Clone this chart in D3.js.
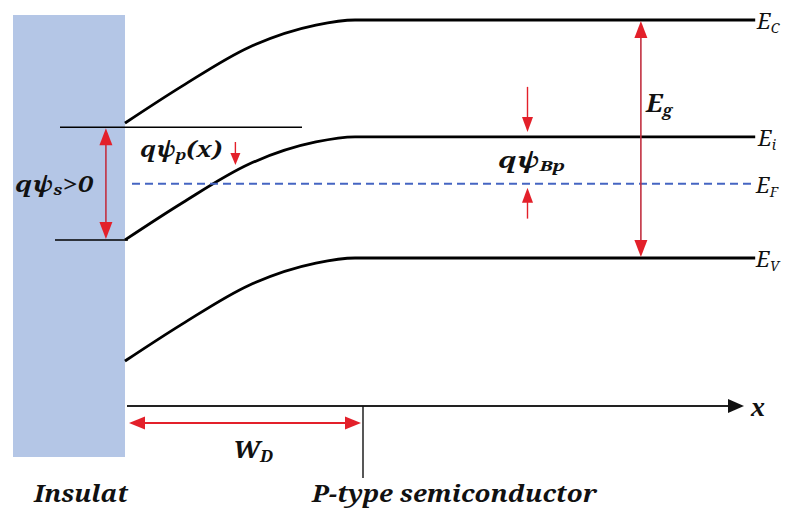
<!DOCTYPE html>
<html>
<head>
<meta charset="utf-8">
<script src="https://cdn.jsdelivr.net/npm/d3@7"></script>
<style>
  html, body { margin: 0; padding: 0; background: #fff; }
  svg { display: block; }
</style>
</head>
<body>
<div id="chart"></div>
<script>
// Energy band diagram of a p-type MOS structure under positive surface potential.
// Energies in eV relative to the bulk valence band edge; position in units of the depletion width W_D.

const bandNames   = ["C", "i", "V"];          // E_C, E_i, E_V
const bulkEnergy  = [1.12, 0.57, 0.0];        // flat-band levels in the bulk
const fermiLevel  = 0.35;                     // E_F
const bendPos     = [0, 0.25, 0.54, 0.83, 1.0];      // x / W_D
const bendDrop    = [0.485, 0.31, 0.128, 0.024, 0];  // downward band bending (eV)
const bulkEnd     = 2.74;                     // right end of the drawn bulk region (x / W_D)
const surfaceRef  = 0.615;                    // reference level drawn at the interface
const psiArrowX   = -0.083;                   // qψs marker position
const psiBpArrowX = 1.75;                     // qψBp marker position
const egArrowX    = 2.243;                    // Eg marker position
const psiPArrowX  = 0.48;                     // qψp(x) marker position

const W = 795, H = 520;
const FONT = "Noto Serif, Liberation Serif, serif";
const FONT2 = "Liberation Serif, serif";
const svg = d3.select("#chart").append("svg").attr("width", W).attr("height", H);

const x = d3.scaleLinear().domain([0, 1]).range([125, 355]);
const y = d3.scaleLinear().domain([0, 1.12]).range([258, 20]);

const RED = "#e3202a", SHAFT = "#c23040", BLUE = "#4565c2";

// insulator block
svg.append("rect")
  .attr("x", 13).attr("y", 15).attr("width", x(0) - 13).attr("height", 442)
  .attr("fill", "#b4c6e6");

// band edges: bent region joined to the flat bulk part
const line = d3.line().x(d => x(d[0])).y(d => y(d[1])).curve(d3.curveMonotoneX);
bulkEnergy.forEach(e0 => {
  const pts = bendPos.map((p, i) => [p, e0 - bendDrop[i]]).concat([[bulkEnd, e0]]);
  svg.append("path").attr("d", line(pts))
    .attr("fill", "none").attr("stroke", "#000").attr("stroke-width", 2.8);
});

// Fermi level
svg.append("line")
  .attr("x1", x(0) + 7).attr("x2", x(bulkEnd))
  .attr("y1", y(fermiLevel)).attr("y2", y(fermiLevel))
  .attr("stroke", BLUE).attr("stroke-width", 2).attr("stroke-dasharray", "8,5");

// interface reference lines
svg.append("line")
  .attr("x1", 60).attr("x2", 302).attr("y1", y(surfaceRef)).attr("y2", y(surfaceRef))
  .attr("stroke", "#000").attr("stroke-width", 1.6);
svg.append("line")
  .attr("x1", 55).attr("x2", x(0) + 3)
  .attr("y1", y(bulkEnergy[1] - bendDrop[0])).attr("y2", y(bulkEnergy[1] - bendDrop[0]))
  .attr("stroke", "#000").attr("stroke-width", 1.6);

// arrow helpers: shaft plus filled head(s)
function drawHead(g, px, py, dir, w, l, orient) {
  const p = d3.path();
  if (orient === "v") {
    p.moveTo(px, py);
    p.lineTo(px - w / 2, py - dir * l);
    p.lineTo(px + w / 2, py - dir * l);
  } else {
    p.moveTo(px, py);
    p.lineTo(px - dir * l, py - w / 2);
    p.lineTo(px - dir * l, py + w / 2);
  }
  p.closePath();
  g.append("path").attr("d", p.toString()).attr("fill", RED);
}
function vArrow(px, y1, y2, opts) {
  const g = svg.append("g");
  const hw = opts.w || 12, hl = opts.l || 16;
  const d = Math.sign(y2 - y1);
  g.append("line").attr("x1", px).attr("x2", px)
    .attr("y1", y1 + (opts.start ? hl - 2 : 0) * d)
    .attr("y2", y2 - (opts.end ? hl - 2 : 0) * d)
    .attr("stroke", opts.shaft || SHAFT).attr("stroke-width", opts.sw || 1.6);
  if (opts.end) drawHead(g, px, y2, d, hw, hl, "v");
  if (opts.start) drawHead(g, px, y1, -d, hw, hl, "v");
}
function hArrow(py, x1, x2, opts) {
  const g = svg.append("g");
  const hw = opts.w || 12, hl = opts.l || 16;
  g.append("line").attr("y1", py).attr("y2", py)
    .attr("x1", x1 + hl - 2).attr("x2", x2 - hl + 2)
    .attr("stroke", opts.shaft || RED).attr("stroke-width", opts.sw || 2);
  drawHead(g, x2, py, 1, hw, hl, "h");
  drawHead(g, x1, py, -1, hw, hl, "h");
}

// qψs: interface reference to surface intrinsic level
vArrow(x(psiArrowX), y(surfaceRef) + 1, y(bulkEnergy[1] - bendDrop[0]) - 1, { start: true, end: true, w: 13, l: 17 });
// Eg
vArrow(x(egArrowX), y(bulkEnergy[0]) + 1, y(bulkEnergy[2]) - 1, { start: true, end: true, w: 13, l: 17 });
// qψBp pointers
vArrow(x(psiBpArrowX), y(bulkEnergy[1]) - 50, y(bulkEnergy[1]) - 5, { end: true, w: 11, l: 15, shaft: RED, sw: 1.4 });
vArrow(x(psiBpArrowX), y(fermiLevel) + 35, y(fermiLevel) + 4, { end: true, w: 11, l: 15, shaft: RED, sw: 1.4 });
// qψp(x) pointer
vArrow(x(psiPArrowX), 142, 165, { end: true, w: 10, l: 12, shaft: RED, sw: 1.4 });

// position axis
const axisY = 406;
svg.append("line").attr("x1", x(0) + 2).attr("x2", 732).attr("y1", axisY).attr("y2", axisY)
  .attr("stroke", "#222").attr("stroke-width", 2);
svg.append("path")
  .attr("d", d3.line()([[744, axisY], [728, axisY - 7], [728, axisY + 7]]) + "Z")
  .attr("fill", "#111");
svg.append("line").attr("x1", x(1) + 8).attr("x2", x(1) + 8).attr("y1", axisY).attr("y2", 478)
  .attr("stroke", "#111").attr("stroke-width", 1.4);
hArrow(423, x(0) + 4, x(1) + 6, { w: 13, l: 16 });

// text labels
function label(tx, ty, parts, size, weight, len, fam) {
  const t = svg.append("text").attr("x", tx).attr("y", ty)
    .attr("font-family", fam || FONT).attr("font-style", "italic").attr("fill", "#111")
    .attr("font-size", size).attr("font-weight", weight || "bold");
  parts.forEach(p => {
    const s = t.append("tspan").text(p.t);
    if (p.sub) s.attr("font-size", p.size || size * 0.62).attr("dy", p.dy || size * 0.22);
    if (p.up) s.attr("dy", -p.up);
  });
  if (len) t.attr("textLength", len).attr("lengthAdjust", "spacingAndGlyphs");
  return t;
}

label(757, 29, [{ t: "E" }, { t: "C", sub: true, size: 14, dy: 4 }], 22, "normal");
label(758, 146, [{ t: "E" }, { t: "i", sub: true, size: 14, dy: 4 }], 22, "normal");
label(756, 193, [{ t: "E" }, { t: "F", sub: true, size: 14, dy: 4 }], 22, "normal");
label(756, 267, [{ t: "E" }, { t: "V", sub: true, size: 14, dy: 4 }], 22, "normal");

label(646, 112, [{ t: "E" }, { t: "g", sub: true, size: 17, dy: 4 }], 26, "bold");
label(498, 168, [{ t: "qψ" }, { t: "Bp", sub: true, size: 14, dy: 3 }], 21, "bold", 67);
label(140, 157, [{ t: "qψ" }, { t: "p", sub: true, size: 14, dy: 3 }, { t: "(x)", up: 3 }], 21, "bold", 82);
label(15, 192, [{ t: "qψ" }, { t: "s", sub: true, size: 14, dy: 3 }, { t: ">0", up: 3 }], 21, "bold", 78);

label(233, 458, [{ t: "W" }, { t: "D", sub: true, size: 16, dy: 4 }], 24, "bold", 40);
label(751, 416, [{ t: "x" }], 28, "bold", null, FONT2);
label(34, 502, [{ t: "Insulat" }], 23, "bold", 94);
label(312, 502, [{ t: "P-type semiconductor" }], 23, "bold", 285);
</script>
</body>
</html>
